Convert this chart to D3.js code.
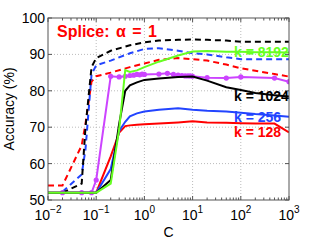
<!DOCTYPE html>
<html>
<head>
<meta charset="utf-8">
<script src="https://cdn.jsdelivr.net/npm/d3@7"></script>
<style>
  body { margin: 0; background: #fff; }
  text { font-family: "Liberation Sans", Arial, sans-serif; }
</style>
</head>
<body>
<svg id="chart" width="319" height="240"></svg>
<script>
// sample points of C for each group of curves
var cDashed = [0.01, 0.02, 0.05, 0.06, 0.08, 0.1, 0.2, 0.5, 1, 2, 5, 10, 20, 50, 100, 200, 500, 1000]
var cSolid = [0.01, 0.1, 0.2, 0.3, 0.4, 0.5, 0.7, 1, 2, 5, 10, 20, 50, 100, 200, 500, 1000]
var cPurple = [0.02, 0.05, 0.08, 0.1, 0.2, 0.3, 0.4, 0.5, 0.6, 0.7, 0.8, 0.9, 1, 2, 3, 4, 5, 6, 7, 8, 9, 10, 20, 50, 100, 500, 1000]

// dashed curves (start at 0.02 for black and blue)
var blackDashed = [null, 52, 54.5, 70, 86.5, 89, 91, 92.5, 93.3, 93.8, 94, 94.1, 94, 93.8, 93.5, 93.5, 93.5, 93.5]
var blueDashed = [null, 52.3, 57, 64, 84.5, 87, 88.3, 90.3, 91.5, 91.7, 91, 90.3, 90, 89.2, 88.7, 88.7, 88.7, 88.7]
var redDashed = [54, 54, 65, 71, 82.5, 84, 85, 86.5, 87.5, 88.5, 89, 88.7, 88.3, 87.2, 86.2, 85.5, 84.6, 83.9]

// solid curves
var k8192 = [52, 52, 54.5, 69.5, 85.7, 85.2, 85.6, 86.5, 88, 89.7, 90.8, 90.9, 90.7, 90.7, 90.6, 90.6, 90.5]
var k1024 = [52, 52, 55.5, 71, 80, 81.5, 82.3, 83, 83.4, 83.8, 83.9, 82.8, 81, 80.2, 79.4, 78.8, 78.4]
var k256 = [52, 52, 58.5, 69, 71.5, 73, 73.8, 74.3, 74.8, 75.2, 74.8, 74.5, 74.3, 74, 73.6, 73.2, 72.9]
var k128 = [52, 52, 62, 68.5, 70.3, 70.5, 70.7, 70.8, 71, 71.3, 71.6, 71.3, 71.2, 71.1, 71, 71, 68.6]

// purple curve with markers
var purple = [52, 52, 52, 55.5, 84, 83.8, 84, 84.2, 84.3, 84.5, 84.4, 84.6, 84.5, 84.6, 84.8, 84.5, 84.3, 84.2, 84.1, 84.1, 84.1, 84, 83.6, 83.5, 83.8, 83.5, 82.5]

var yTicks = [50, 60, 70, 80, 90, 100]
var xTicks = [-2, -1, 0, 1, 2, 3]

let svg = d3.select('#chart')
let margin = { left: 48, right: 30, top: 18, bottom: 40 }
let W = 319, H = 240

let x = d3.scaleLog().domain([0.01, 1000]).range([margin.left, W - margin.right])
let y = d3.scaleLinear().domain([50, 100]).range([H - margin.bottom, margin.top])

svg.append('defs').append('clipPath').attr('id', 'clip')
    .append('rect')
    .attr('x', margin.left).attr('y', margin.top)
    .attr('width', W - margin.left - margin.right)
    .attr('height', H - margin.top - margin.bottom)

// grid
let grid = svg.append('g')
grid.selectAll('.gx').data(xTicks.slice(1, -1)).join('line')
    .attr('x1', d => x(Math.pow(10, d))).attr('x2', d => x(Math.pow(10, d)))
    .attr('y1', y(50)).attr('y2', y(100))
    .style('stroke', '#bbb').style('stroke-width', 1).style('stroke-dasharray', '1,2')
grid.selectAll('.gy').data(yTicks.slice(1, -1)).join('line')
    .attr('y1', d => y(d)).attr('y2', d => y(d))
    .attr('x1', x(0.01)).attr('x2', x(1000))
    .style('stroke', '#bbb').style('stroke-width', 1).style('stroke-dasharray', '1,2')

// ticks
let minor = []
for (let e = -2; e < 3; e++) {
    for (let m = 2; m < 10; m++) minor.push(m * Math.pow(10, e))
}
let tk = svg.append('g').style('stroke', '#555').style('stroke-width', 1)
tk.selectAll('.mb').data(minor).join('line')
    .attr('x1', d => x(d)).attr('x2', d => x(d))
    .attr('y1', y(50)).attr('y2', y(50) - 2.5)
tk.selectAll('.mt').data(minor).join('line')
    .attr('x1', d => x(d)).attr('x2', d => x(d))
    .attr('y1', y(100)).attr('y2', y(100) + 2.5)
tk.selectAll('.Mb').data(xTicks).join('line')
    .attr('x1', d => x(Math.pow(10, d))).attr('x2', d => x(Math.pow(10, d)))
    .attr('y1', y(50)).attr('y2', y(50) - 4)
tk.selectAll('.Mt').data(xTicks).join('line')
    .attr('x1', d => x(Math.pow(10, d))).attr('x2', d => x(Math.pow(10, d)))
    .attr('y1', y(100)).attr('y2', y(100) + 4)
tk.selectAll('.yl').data(yTicks).join('line')
    .attr('y1', d => y(d)).attr('y2', d => y(d))
    .attr('x1', x(0.01)).attr('x2', x(0.01) + 4)
tk.selectAll('.yr').data(yTicks).join('line')
    .attr('y1', d => y(d)).attr('y2', d => y(d))
    .attr('x1', x(1000)).attr('x2', x(1000) - 4)

// tick labels
svg.selectAll('.ylab').data(yTicks).join('text')
    .attr('x', margin.left - 3)
    .attr('y', d => y(d) + 5)
    .attr('text-anchor', 'end')
    .style('font-size', '14px')
    .text(d => d)

let xl = svg.selectAll('.xlab').data(xTicks).join('text')
    .attr('x', d => x(Math.pow(10, d)))
    .attr('y', 220)
    .attr('text-anchor', 'middle')
    .style('font-size', '14px')
xl.append('tspan').text('10')
xl.append('tspan').attr('dy', -7).style('font-size', '10px').text(d => d < 0 ? '\u2212' + (-d) : d)

svg.append('text')
    .attr('x', (x(0.01) + x(1000)) / 2)
    .attr('y', 237)
    .attr('text-anchor', 'middle')
    .style('font-size', '14px')
    .text('C')

svg.append('text')
    .attr('transform', `translate(14,${(y(50) + y(100)) / 2}) rotate(-90)`)
    .attr('text-anchor', 'middle')
    .style('font-size', '14px')
    .text('Accuracy (%)')

// curves
let plot = svg.append('g').attr('clip-path', 'url(#clip)')

function drawLine(cs, vals, color, dashed) {
    let pts = cs.map((c, i) => [c, vals[i]]).filter(p => p[1] != null)
    let line = d3.line().x(d => x(d[0])).y(d => y(d[1]))
    plot.append('path')
        .datum(pts)
        .attr('d', line)
        .style('fill', 'none')
        .style('stroke', color)
        .style('stroke-width', 2)
        .style('stroke-dasharray', dashed ? '6,4' : null)
    return pts
}

drawLine(cDashed, redDashed, '#ff0000', true)
drawLine(cDashed, blueDashed, '#2244ff', true)
drawLine(cDashed, blackDashed, '#000000', true)
drawLine(cSolid, k128, '#ff0000', false)
drawLine(cSolid, k256, '#2244ff', false)
let pp = drawLine(cPurple, purple, '#cc44ff', false)
plot.selectAll('.dot').data(pp).join('circle')
    .attr('cx', d => x(d[0])).attr('cy', d => y(d[1]))
    .attr('r', 2.6)
    .style('fill', '#cc44ff')
drawLine(cSolid, k1024, '#000000', false)
drawLine(cSolid, k8192, '#66ff22', false)

// frame
svg.append('rect')
    .attr('x', x(0.01)).attr('y', y(100))
    .attr('width', x(1000) - x(0.01)).attr('height', y(50) - y(100))
    .style('fill', 'none').style('stroke', '#555').style('stroke-width', 1)

// annotations
svg.append('text')
    .attr('x', 57).attr('y', 37)
    .style('font-size', '16px').style('font-weight', 'bold').style('fill', '#ff0000')
    .style('word-spacing', '2px')
    .text('Splice: \u03b1 = 1')

let labels = [
    { t: 'k = 8192', c: '#66ff22', yy: 57 },
    { t: 'k = 1024', c: '#000000', yy: 101 },
    { t: 'k = 256', c: '#2244ff', yy: 122 },
    { t: 'k = 128', c: '#ff0000', yy: 137 }
]
svg.selectAll('.klab').data(labels).join('text')
    .attr('x', 234).attr('y', d => d.yy)
    .style('font-size', '14px').style('font-weight', 'bold')
    .style('fill', d => d.c)
    .text(d => d.t)
</script>
</body>
</html>
